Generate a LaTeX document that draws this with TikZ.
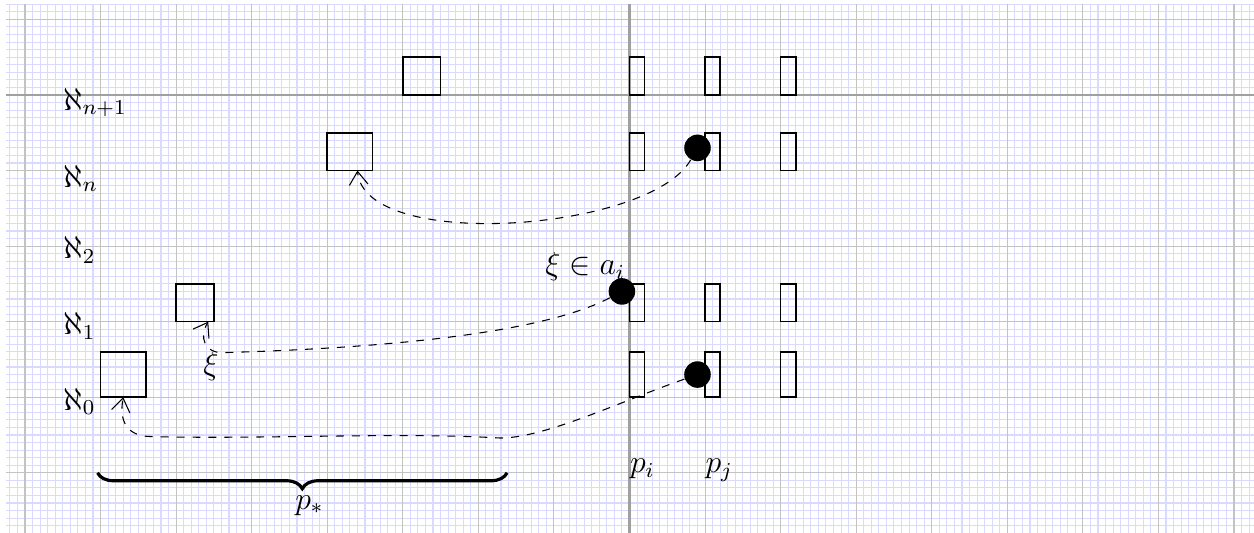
\documentclass[12pt,tikz,border=0pt]{standalone}
\usepackage{amsmath}
\usepackage{amssymb}
\usetikzlibrary{arrows.meta, positioning, decorations.pathreplacing}
\definecolor{gridminor}{RGB}{218,218,255}
\definecolor{gridmajor}{RGB}{195,195,195}
\definecolor{gridaxis}{RGB}{160,160,160}

\begin{document}
\begin{tikzpicture}[
    cell/.style={rectangle, draw, semithick, inner sep=0pt, outer sep=0pt, anchor=south west},
    slot/.style={cell, minimum width=0.2cm},
    dot/.style={circle, fill=black, inner sep=0pt, minimum size=10pt},
    tag/.style={inner sep=0pt, anchor=base west},
    link/.style={dashed, -{Straight Barb[length=5pt,width=7pt]}}
]
\useasboundingbox (-8.331,-5.794) rectangle (8.265,1.257);

\draw[gridminor, line width=0.4pt, step=0.1] (-8.25,-5.794) grid (8.265,1.2);
\draw[gridmajor, step=1] (-8.25,-5.794) grid (8.265,1.2);
\draw[gridaxis, line width=0.8pt] (-8.25,0) -- (8.265,0);
\draw[gridaxis, line width=0.8pt] (0,-5.794) -- (0,1.2);

\node[cell, minimum width=0.5cm, minimum height=0.5cm] (boxA) at (-3,0) {};
\node[cell, minimum width=0.6cm, minimum height=0.5cm] (boxB) at (-4,-1) {};
\node[cell, minimum width=0.5cm, minimum height=0.5cm] (boxC) at (-6,-3) {};
\node[cell, minimum width=0.6cm, minimum height=0.6cm] (boxD) at (-7,-4) {};

\foreach \c in {0,1,2}
  \foreach \r/\y/\h in {a/0/0.5, b/-1/0.5, c/-3/0.5, d/-4/0.6}
    \node[slot, minimum height=\h cm] (slot\r\c) at (\c,\y) {};

\node[dot] (dotB) at (0.9,-0.7) {};
\node[dot] (dotC) at (-0.1,-2.6) {};
\node[dot] (dotD) at (0.9,-3.7) {};

\node[tag] (alephN1) at (-7.5,-0.2) {$\aleph_{n+1}$};
\node[tag] (alephN) at (-7.5,-1.22) {$\aleph_n$};
\node[tag] (aleph2) at (-7.5,-2.17) {$\aleph_2$};
\node[tag] (aleph1) at (-7.5,-3.17) {$\aleph_1$};
\node[tag] (aleph0) at (-7.5,-4.17) {$\aleph_0$};

\node[tag] (xiIn) at (-1.12,-2.38) {$\xi\in a_i$};
\node[tag] (xi) at (-5.645,-3.70) {$\xi$};
\node[tag] (pI) at (0,-5) {$p_i$};
\node[tag] (pJ) at (1,-5) {$p_j$};
\node[tag] (pStar) at (-4.43,-5.48) {$p_*$};

\draw[decorate, decoration={brace, mirror, amplitude=6pt}, very thick] (-7.04,-5) -- (-1.62,-5);

\draw[link] (dotB) .. controls (0.27,-1.81) and (-3.51,-2.08) .. ([xshift=1mm]boxB.south);
\draw[link] (dotC) .. controls (-1.32,-3.24) and (-3.96,-3.37) .. (-5.39,-3.41)
    .. controls (-5.62,-3.41) and (-5.70,-3.21) .. ([xshift=1.75mm]boxC.south);
\draw[link] (dotD) .. controls (-0.13,-4.06) and (-1.12,-4.54) .. (-1.71,-4.54)
    .. controls (-3.04,-4.46) and (-4.89,-4.56) .. (-6.35,-4.52)
    .. controls (-6.64,-4.51) and (-6.76,-4.33) .. (boxD.south);
\end{tikzpicture}
\end{document}
